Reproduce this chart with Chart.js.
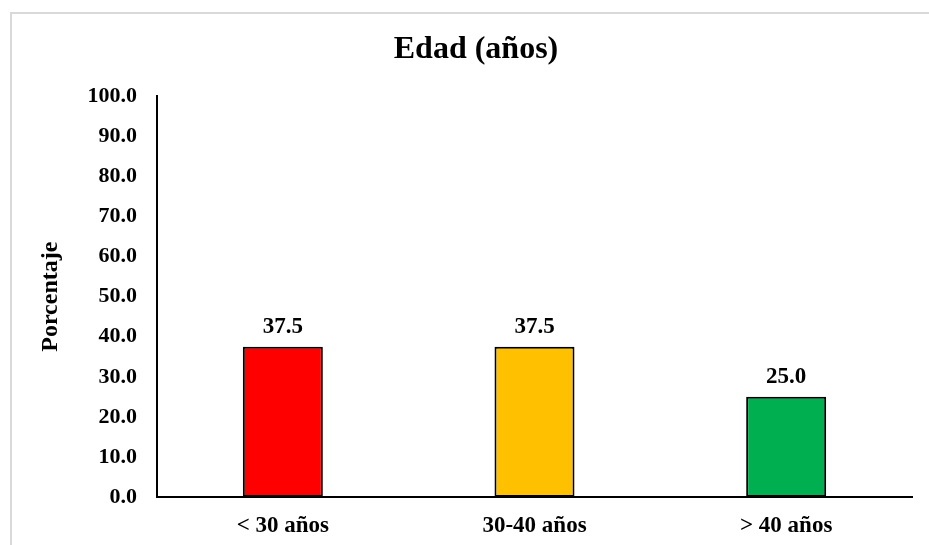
<!DOCTYPE html>
<html>
<head>
<meta charset="utf-8">
<script src="https://cdn.jsdelivr.net/npm/chart.js@4/dist/chart.umd.min.js"></script>
<style>
  html, body { margin: 0; padding: 0; background: #fff; overflow: hidden; }
  #frame {
    position: absolute; left: 10px; top: 12px;
    width: 1000px; height: 1000px;
    border: 2px solid #d9d9d9;
  }
  #wrap { position: absolute; left: 0; top: 0; width: 929px; height: 545px; }
</style>
</head>
<body>
<div id="frame"></div>
<div id="wrap"><canvas id="edadChart"></canvas></div>
<script>
// EDAD

const categorias = ["< 30 años", "30-40 años", "> 40 años"];
const porcentajes = [37.5, 37.5, 25.0];
const colores = ["#FF0000", "#FFC000", "#00B050"];
const yTicks = { min: 0, max: 100, step: 10 };

const serif = "'Times New Roman', 'Liberation Serif', serif";

// writes the value above each bar
const etiquetas = {
  id: "etiquetas",
  afterDatasetsDraw(chart) {
    const ctx = chart.ctx;
    const meta = chart.getDatasetMeta(0);
    ctx.save();
    ctx.font = "bold 23px " + serif;
    ctx.fillStyle = "#000";
    ctx.textAlign = "center";
    ctx.textBaseline = "alphabetic";
    meta.data.forEach((bar, i) => {
      const v = chart.data.datasets[0].data[i];
      ctx.fillText(v.toFixed(1), bar.x, bar.y - 14);
    });
    ctx.restore();
  },
};

const edadChart = document.getElementById("edadChart");

new Chart(edadChart, {
  type: "bar",
  data: {
    labels: categorias,
    datasets: [
      {
        label: "Edad",
        data: porcentajes,
        backgroundColor: colores,
        borderColor: "#000",
        borderWidth: 2,
        borderSkipped: false,
        categoryPercentage: 1,
        barPercentage: 0.318,
      },
    ],
  },
  options: {
    responsive: true,
    maintainAspectRatio: false,
    animation: false,
    layout: { padding: { left: 40, right: 17, top: 0, bottom: 0 } },
    plugins: {
      legend: { display: false },
      tooltip: { enabled: false },
      title: {
        display: true,
        text: "Edad (años)",
        color: "#000",
        font: { family: serif, size: 32, weight: "bold" },
        padding: { top: 31, bottom: 27 },
      },
    },
    scales: {
      x: {
        grid: { display: false, drawTicks: false },
        border: { display: true, color: "#000", width: 2 },
        ticks: {
          color: "#000",
          padding: 15,
          font: { family: serif, size: 23, weight: "bold" },
        },
        afterFit(scale) {
          scale.height = 48;
        },
      },
      y: {
        min: yTicks.min,
        max: yTicks.max,
        grid: { display: false, drawTicks: false },
        border: { display: true, color: "#000", width: 2 },
        ticks: {
          stepSize: yTicks.step,
          color: "#000",
          padding: 20,
          font: { family: serif, size: 22, weight: "bold" },
          callback: (v) => v.toFixed(1),
        },
        title: {
          display: true,
          text: "Porcentaje",
          color: "#000",
          font: { family: serif, size: 24, weight: "bold" },
          padding: { top: -4, bottom: 0 },
        },
        afterFit(scale) {
          scale.width = 117;
        },
      },
    },
  },
  plugins: [etiquetas],
});
</script>
</body>
</html>
